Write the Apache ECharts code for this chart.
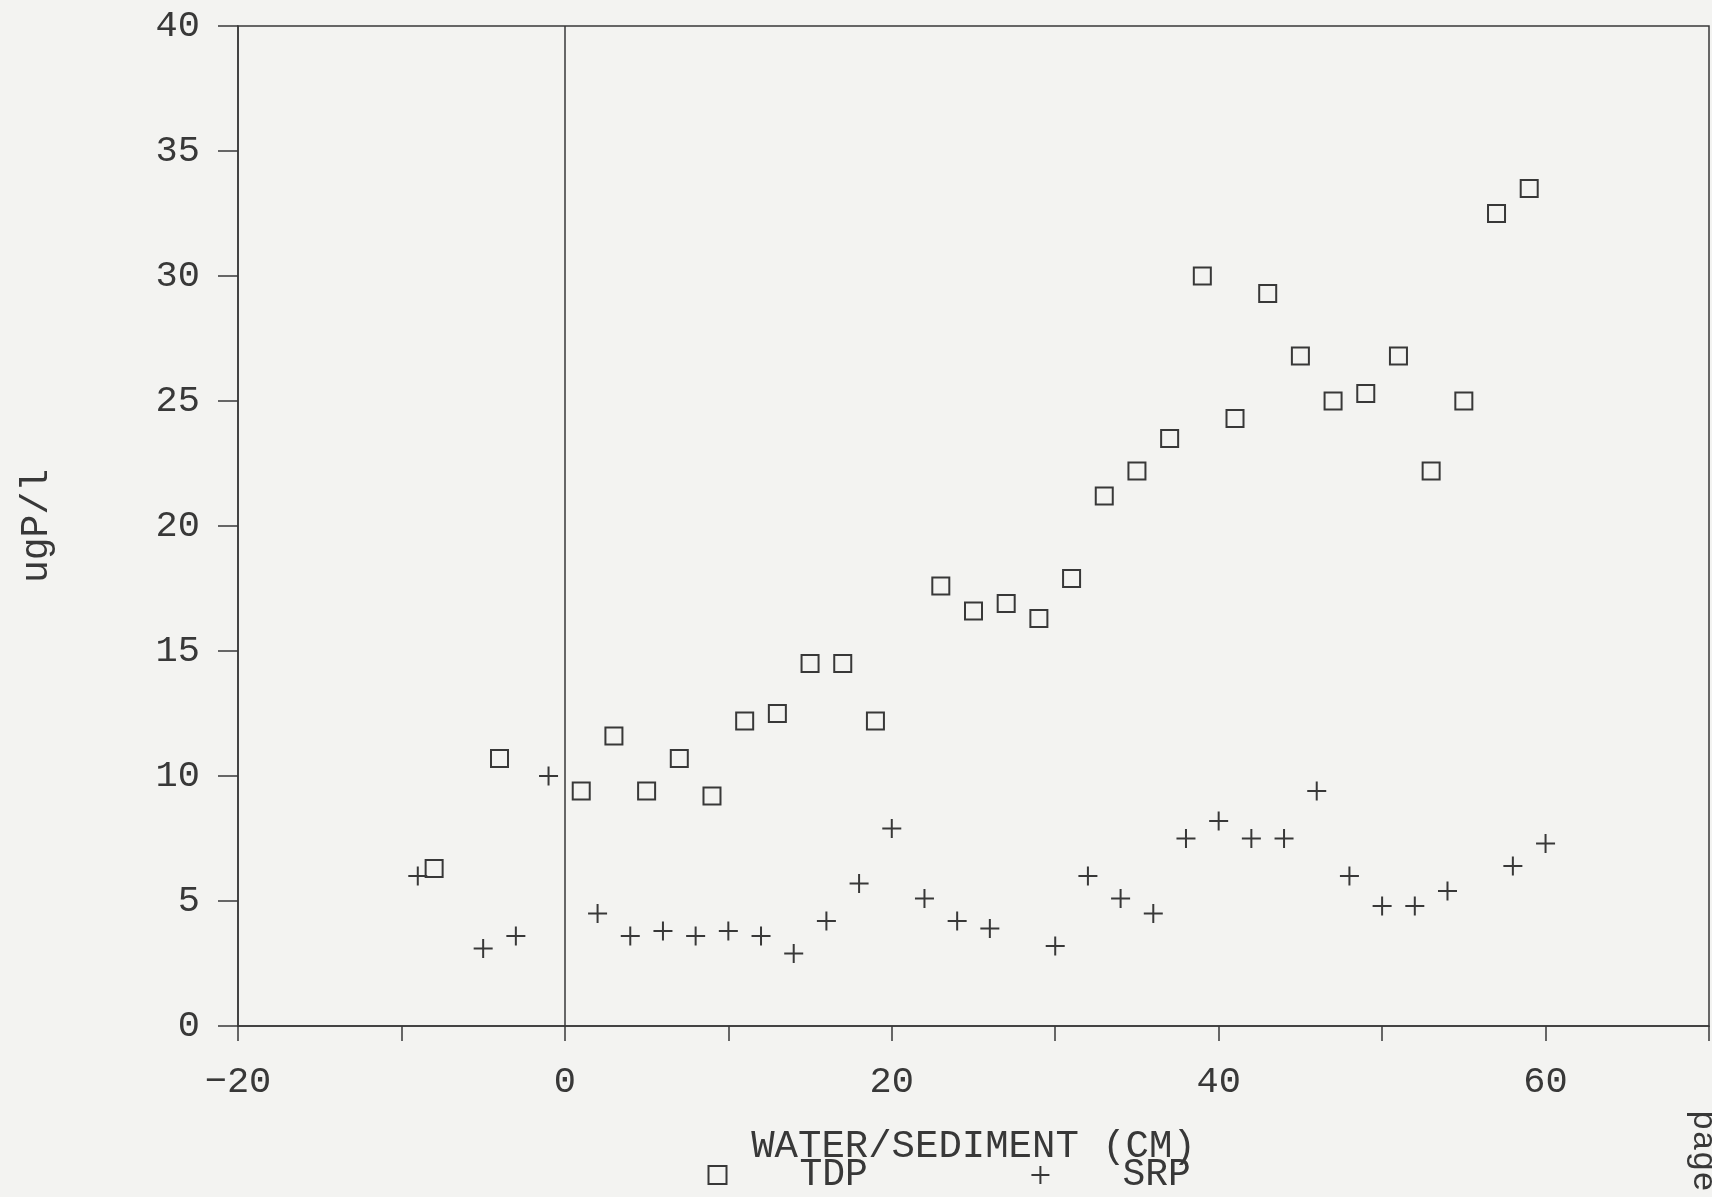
<!DOCTYPE html>
<html>
<head>
<meta charset="utf-8">
<script src="https://cdn.jsdelivr.net/npm/echarts@6/dist/echarts.min.js"></script>
<style>
    html, body { margin: 0; padding: 0; background: #f3f3f1; }
    #chart { width: 1712px; height: 1197px; }
</style>
</head>
<body>
<div id="chart"></div>
<script>
"use strict";
// 数据：深度(cm) 与浓度 ugP/l
var tdpDepth = [-8, -4, 1, 3, 5, 7, 9, 11, 13, 15, 17, 19, 23, 25, 27, 29, 31, 33, 35, 37, 39, 41, 43, 45, 47, 49, 51, 53, 55, 57, 59];
var tdpValue = [6.3, 10.7, 9.4, 11.6, 9.4, 10.7, 9.2, 12.2, 12.5, 14.5, 14.5, 12.2, 17.6, 16.6, 16.9, 16.3, 17.9, 21.2, 22.2, 23.5, 30.0, 24.3, 29.3, 26.8, 25.0, 25.3, 26.8, 22.2, 25.0, 32.5, 33.5];

var srpDepth = [-9, -5, -3, -1, 2, 4, 6, 8, 10, 12, 14, 16, 18, 20, 22, 24, 26, 30, 32, 34, 36, 38, 40, 42, 44, 46, 48, 50, 52, 54, 58, 60];
var srpValue = [6.0, 3.1, 3.6, 10.0, 4.5, 3.6, 3.8, 3.6, 3.8, 3.6, 2.9, 4.2, 5.7, 7.9, 5.1, 4.2, 3.9, 3.2, 6.0, 5.1, 4.5, 7.5, 8.2, 7.5, 7.5, 9.4, 6.0, 4.8, 4.8, 5.4, 6.4, 7.3];

var xTicks = [-20, 0, 20, 40, 60];

var ink = '#383838';
var font = 'Liberation Mono';

function pairs(xs, ys) {
    return xs.map(function (x, i) { return [x, ys[i]]; });
}

function initGraph() {
    var myChart = echarts.init(document.getElementById('chart'));
    var option = {
        backgroundColor: '#f3f3f1',
        animation: false,
        grid: {
            left: 238, right: 2, top: 26, bottom: 171,
            show: true, borderColor: ink, borderWidth: 1.5,
            backgroundColor: 'transparent'
        },
        xAxis: {
            type: 'value', min: -20, max: 70, interval: 10,
            name: 'WATER/SEDIMENT (CM)', nameLocation: 'middle', nameGap: 101,
            nameTextStyle: { fontFamily: font, fontSize: 39, color: ink },
            axisLine: { lineStyle: { color: ink, width: 1.5 } },
            axisTick: { length: 15, lineStyle: { color: ink, width: 1.5 } },
            axisLabel: {
                margin: 38, fontFamily: font, fontSize: 37, color: ink,
                formatter: function (v) {
                    if (xTicks.indexOf(v) < 0) return '';
                    return v < 0 ? '\u2212' + (-v) : String(v);
                }
            },
            splitLine: { show: false }
        },
        yAxis: {
            type: 'value', min: 0, max: 40, interval: 5,
            name: 'ugP/l', nameLocation: 'middle', nameGap: 182,
            nameTextStyle: { fontFamily: font, fontSize: 38, color: ink },
            axisLine: { onZero: false, lineStyle: { color: ink, width: 1.5 } },
            axisTick: { length: 20, lineStyle: { color: ink, width: 1.5 } },
            axisLabel: { margin: 38, fontFamily: font, fontSize: 37, color: ink },
            splitLine: { show: false }
        },
        legend: {
            left: 701, bottom: -2,
            itemGap: 161, itemWidth: 18, itemHeight: 18,
            textStyle: { fontFamily: font, fontSize: 38, color: ink, padding: [0, 0, 0, 68] },
            data: ['TDP', 'SRP']
        },
        series: [
            {
                name: 'TDP', type: 'scatter',
                symbol: 'rect', symbolSize: 17,
                itemStyle: { color: 'none', borderColor: ink, borderWidth: 2, opacity: 1 },
                data: pairs(tdpDepth, tdpValue),
                markLine: {
                    silent: true, symbol: 'none', label: { show: false },
                    lineStyle: { color: ink, width: 1.5, type: 'solid' },
                    data: [{ xAxis: 0 }]
                }
            },
            {
                name: 'SRP', type: 'scatter',
                symbol: 'path://M10,0 L10,20 M0,10 L20,10', symbolSize: 19,
                itemStyle: { color: 'none', borderColor: ink, borderWidth: 2, opacity: 1 },
                data: pairs(srpDepth, srpValue)
            }
        ],
        graphic: [{
            type: 'text', x: 1720, y: 1110, rotation: -Math.PI / 2,
            style: { text: 'page 4', fontFamily: font, fontSize: 34, fill: ink }
        }]
    };
    myChart.setOption(option);
    return myChart;
}

var myChart = initGraph();
</script>
</body>
</html>
